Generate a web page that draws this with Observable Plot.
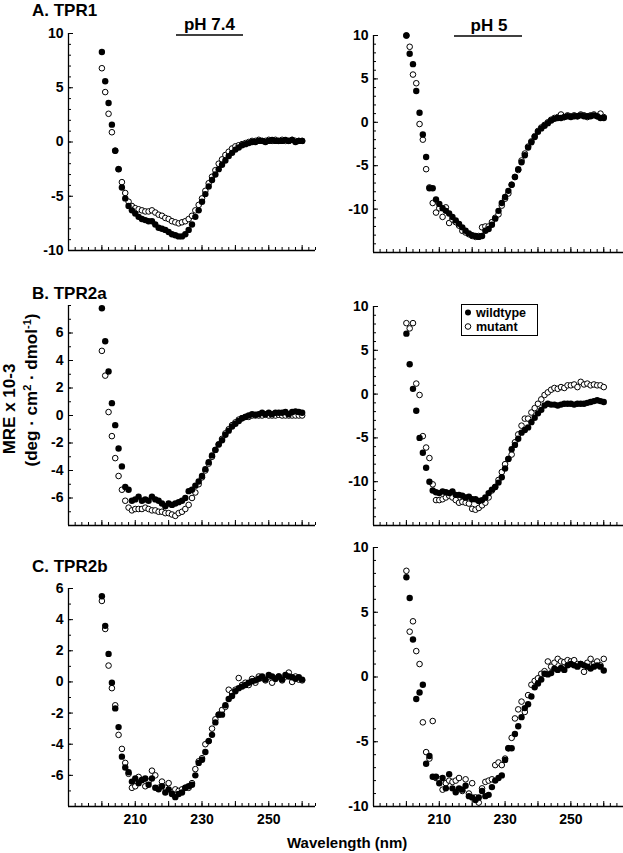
<!DOCTYPE html>
<html>
<head>
<meta charset="utf-8">
<script src="https://cdn.jsdelivr.net/npm/d3@7"></script>
<script src="https://cdn.jsdelivr.net/npm/@observablehq/plot@0.6"></script>
<style>
  body { margin: 0; background: #fff; }
  #chart { position: relative; width: 623px; height: 853px; overflow: hidden; background: #fff;
           font-family: "Liberation Sans", Arial, Helvetica, sans-serif; }
  #chart .panel { position: absolute; }
  #chart .overlay { position: absolute; left: 0; top: 0; pointer-events: none; }
</style>
</head>
<body>
<div id="chart"></div>
<script>
// ---------------- data ----------------
const wavelength = [200,201,202,203,204,205,206,207,208,209,
  210,211,212,213,214,215,216,217,218,219,
  220,221,222,223,224,225,226,227,228,229,
  230,231,232,233,234,235,236,237,238,239,
  240,241,242,243,244,245,246,247,248,249,
  250,251,252,253,254,255,256,257,258,259,260];

// A. TPR1, pH 7.4
const tpr1_ph74_wildtype = [8.3,5.6,3.6,1.6,-0.8,-2.5,-4.2,-5.2,-5.9,-6.3,
  -6.6,-6.9,-7.1,-7.2,-7.3,-7.3,-7.6,-7.9,-8.0,-8.1,
  -8.3,-8.5,-8.6,-8.7,-8.7,-8.5,-8.1,-7.6,-6.9,-6.3,
  -5.5,-4.8,-4.1,-3.5,-3.0,-2.5,-2.1,-1.7,-1.3,-1.0,
  -0.7,-0.5,-0.3,-0.2,-0.1,0.0,0.0,0.1,0.1,0.0,
  0.1,0.2,0.1,0.1,0.1,0.2,0.1,0.2,0.0,0.1,0.1];
const tpr1_ph74_mutant = [6.8,4.6,2.6,0.9,-0.8,-2.5,-3.7,-4.7,-5.5,-5.9,
  -6.1,-6.2,-6.3,-6.4,-6.4,-6.3,-6.5,-6.7,-6.8,-7.0,
  -7.1,-7.3,-7.4,-7.5,-7.4,-7.3,-7.1,-6.8,-6.3,-5.8,
  -5.2,-4.5,-3.8,-3.2,-2.6,-2.0,-1.6,-1.2,-0.9,-0.6,
  -0.4,-0.3,-0.2,-0.1,0.0,0.1,0.1,0.2,0.1,0.1,
  0.2,0.1,0.2,0.1,0.2,0.1,0.1,0.2,0.1,0.1,0.1];
// A. TPR1, pH 5
const tpr1_ph5_wildtype = [10.0,7.9,6.7,3.6,1.1,-1.4,-4.0,-7.6,-7.6,-8.9,
  -9.4,-9.9,-10.2,-10.5,-10.9,-11.3,-11.7,-12.1,-12.5,-12.8,
  -13.0,-13.1,-13.2,-13.1,-12.5,-12.3,-11.8,-11.1,-10.2,-9.3,
  -8.6,-7.9,-7.2,-6.3,-5.4,-4.6,-3.8,-2.9,-2.3,-1.7,
  -1.1,-0.7,-0.4,-0.1,0.2,0.4,0.5,0.5,0.6,0.7,
  0.6,0.7,0.7,0.8,0.7,0.7,0.7,0.8,0.7,0.5,0.5];
const tpr1_ph5_mutant = [10.0,8.7,5.5,4.5,-0.2,-2.0,-5.4,-7.5,-9.3,-10.4,
  -9.9,-10.9,-9.8,-11.6,-11.2,-11.5,-11.9,-12.5,-12.7,-12.9,
  -13.1,-13.2,-13.1,-12.1,-12.0,-12.0,-11.5,-11.0,-10.6,-9.6,
  -8.8,-8.2,-7.2,-6.3,-5.5,-4.4,-3.6,-2.8,-2.2,-1.6,
  -1.0,-0.6,-0.3,0.0,0.3,0.5,0.6,0.9,0.6,0.8,
  0.7,0.8,0.7,0.9,0.8,0.6,0.8,0.9,0.7,1.0,0.6];
// B. TPR2a, pH 7.4
const tpr2a_ph74_wildtype = [7.8,5.4,3.2,0.9,-0.7,-2.4,-3.7,-5.2,-5.4,-6.2,
  -6.1,-5.9,-6.2,-6.1,-6.2,-5.9,-6.1,-6.2,-6.4,-6.6,
  -6.4,-6.5,-6.4,-6.3,-6.2,-6.0,-5.5,-5.4,-5.1,-4.8,
  -4.4,-3.9,-3.4,-2.9,-2.5,-2.1,-1.8,-1.4,-1.1,-0.8,
  -0.6,-0.4,-0.2,-0.1,0.0,0.1,0.05,0.1,0.2,0.1,
  0.2,0.1,0.2,0.2,0.2,0.25,0.1,0.25,0.3,0.25,0.2];
const tpr2a_ph74_mutant = [4.7,2.9,0.25,-1.5,-3.1,-4.4,-5.4,-6.2,-6.7,-6.9,
  -6.8,-6.8,-6.8,-6.7,-6.8,-6.9,-6.9,-7.0,-7.0,-7.1,
  -7.1,-7.2,-7.3,-7.1,-7.0,-6.8,-6.5,-6.0,-5.6,-5.0,
  -4.5,-4.0,-3.5,-3.0,-2.5,-2.1,-1.7,-1.3,-1.0,-0.7,
  -0.5,-0.3,-0.2,-0.1,-0.1,0.0,0.0,0.0,0.0,0.05,
  0.0,0.0,0.0,0.05,0.0,0.0,0.0,0.0,0.0,0.0,0.0];
// B. TPR2a, pH 5
const tpr2a_ph5_wildtype = [6.9,3.4,0.6,-1.9,-5.0,-6.7,-8.4,-10.0,-11.0,-11.2,
  -11.3,-11.1,-11.2,-11.3,-11.1,-11.5,-11.5,-11.6,-11.8,-11.7,
  -12.0,-12.0,-12.2,-12.1,-11.8,-11.3,-10.9,-10.6,-10.1,-9.5,
  -8.5,-7.4,-6.3,-5.8,-5.1,-4.4,-4.1,-3.8,-3.2,-2.7,
  -2.2,-1.8,-1.3,-1.1,-1.2,-1.2,-1.3,-1.2,-1.1,-1.1,
  -1.1,-1.2,-1.1,-1.1,-1.1,-1.0,-0.9,-0.8,-0.7,-0.8,-0.9];
const tpr2a_ph5_mutant = [8.1,7.5,8.1,1.2,-0.1,-4.8,-6.1,-7.3,-10.3,-12.1,
  -12.1,-12.0,-11.8,-11.6,-11.8,-12.1,-12.4,-12.3,-12.4,-12.5,
  -13.1,-13.2,-13.0,-12.7,-12.4,-11.8,-11.0,-10.6,-9.8,-8.9,
  -8.0,-7.4,-6.9,-5.5,-4.6,-3.6,-2.8,-2.8,-2.1,-1.6,
  -1.1,-0.6,-0.1,0.2,0.5,0.7,0.6,0.8,0.7,1.0,
  1.0,1.1,0.8,1.4,1.1,1.2,1.0,1.1,1.0,1.0,0.8];
// C. TPR2b, pH 7.4
const tpr2b_ph74_wildtype = [5.5,3.6,1.8,-0.05,-1.7,-2.9,-4.8,-5.5,-5.8,-6.4,
  -6.2,-6.5,-6.3,-6.2,-6.6,-6.2,-6.8,-6.9,-6.7,-7.1,
  -6.9,-7.2,-7.4,-7.2,-7.1,-6.8,-6.7,-6.6,-6.0,-5.2,
  -5.0,-4.5,-3.8,-3.4,-2.6,-2.1,-2.1,-1.5,-1.1,-0.9,
  -0.6,-0.4,-0.3,-0.2,-0.05,0.05,0.1,0.2,0.35,0.15,
  0.45,0.35,0.2,0.35,0.15,0.45,0.35,0.3,0.2,0.3,0.15];
const tpr2b_ph74_mutant = [5.2,3.4,1.05,-0.4,-1.5,-3.4,-4.3,-5.2,-5.9,-6.8,
  -6.7,-6.1,-6.3,-6.7,-6.4,-5.7,-6.0,-6.8,-6.4,-6.8,
  -6.5,-7.1,-6.9,-7.0,-6.9,-6.8,-6.8,-6.5,-5.6,-5.1,
  -4.9,-4.0,-3.8,-3.0,-2.4,-2.1,-1.8,-1.6,-0.5,-0.7,
  -0.5,0.25,-0.2,-0.05,-0.2,0.2,-0.05,0.35,0.25,0.1,
  0.35,-0.05,0.2,0.35,0.1,0.35,0.6,0.0,0.35,0.15,0.1];
// C. TPR2b, pH 5
const tpr2b_ph5_wildtype = [7.7,6.1,2.9,-1.7,-1.2,-0.6,-6.7,-6.1,-7.7,-7.7,
  -8.2,-7.8,-8.6,-7.5,-8.6,-8.9,-8.6,-8.7,-8.4,-9.2,
  -9.3,-9.5,-9.3,-8.8,-9.2,-9.1,-8.5,-8.0,-7.8,-7.6,
  -6.4,-5.5,-5.5,-4.4,-3.8,-3.1,-2.4,-2.1,-1.5,-0.8,
  -0.5,-0.2,0.25,0.2,0.3,0.65,0.55,0.7,0.55,0.9,
  1.0,0.9,0.8,1.0,0.9,0.8,0.65,0.8,0.9,0.8,0.5];
const tpr2b_ph5_mutant = [8.2,3.5,4.3,2.0,1.0,-3.5,-5.8,-6.3,-3.4,-7.8,
  -7.9,-8.7,-8.2,-8.0,-8.1,-8.0,-7.8,-8.8,-7.9,-9.0,
  -8.2,-9.3,-9.7,-8.6,-8.1,-8.0,-7.9,-6.8,-6.6,-6.8,
  -6.3,-5.5,-4.7,-3.2,-2.5,-1.9,-2.7,-1.4,-0.6,-0.3,
  -0.1,0.25,0.45,1.2,0.8,1.1,1.4,1.2,1.15,1.3,
  1.2,1.3,1.0,1.0,0.4,1.1,1.4,1.0,1.2,0.9,1.4];

// tick labels
const xTickLabels = [210, 230, 250];
const xMajorTicks = [190, 200, 210, 220, 230, 240, 250, 260];
const yTicksTen = [10, 5, 0, -5, -10];
const yTicksSix = [6, 4, 2, 0, -2, -4, -6];

// text
const panelTitles = ["A. TPR1", "B. TPR2a", "C. TPR2b"];
const columnTitles = ["pH 7.4", "pH 5"];
const seriesNames = ["wildtype", "mutant"];

// ---------------- drawing ----------------
const FONT = '"Liberation Sans", Arial, Helvetica, sans-serif';
const chart = document.getElementById("chart");

function panel(cfg) {
  const {wt, mu, xDomain, yDomain, yLabels, showX, left, top, width, height, ml, mr, mt, mb} = cfg;
  const wtData = wavelength.map((w, i) => ({w, v: wt[i]}));
  const muData = wavelength.map((w, i) => ({w, v: mu[i]}));
  const fmt = d => String(d);
  const blank = () => "";
  const p = Plot.plot({
    width, height,
    marginLeft: ml, marginRight: mr, marginTop: mt, marginBottom: mb,
    x: {domain: xDomain, label: null},
    y: {domain: yDomain, label: null},
    style: {fontFamily: FONT, background: "transparent", overflow: "visible", color: "black"},
    marks: [
      Plot.ruleX([xDomain[0]], {stroke: "black", strokeWidth: 1.3}),
      Plot.ruleY([yDomain[0]], {stroke: "black", strokeWidth: 1.3}),
      Plot.axisX({ticks: d3.range(xDomain[0], xDomain[1] + 0.01, 2), tickSize: -3, tickFormat: blank, label: null}),
      Plot.axisX({ticks: xMajorTicks, tickSize: -5, tickFormat: blank, label: null}),
      showX ? Plot.axisX({ticks: xTickLabels, tickSize: 0, tickPadding: 8, fontSize: 14, fontWeight: "bold", tickFormat: fmt, label: null}) : null,
      Plot.axisY({ticks: d3.range(yDomain[0], yDomain[1] + 0.01, 1), tickSize: -3, tickFormat: blank, label: null}),
      Plot.axisY({ticks: yLabels, tickSize: -5, tickFormat: blank, label: null}),
      Plot.axisY({ticks: yLabels, tickSize: 0, tickPadding: 5, fontSize: 14, fontWeight: "bold", tickFormat: fmt, label: null}),
      Plot.dot(muData, {x: "w", y: "v", r: 2.8, fill: "white", stroke: "black", strokeWidth: 1}),
      Plot.dot(wtData, {x: "w", y: "v", r: 3.2, fill: "black", stroke: null})
    ]
  });
  p.classList.add("panel");
  p.style.left = left + "px";
  p.style.top = top + "px";
  chart.appendChild(p);
}

const leftCol = {xDomain: [190, 264], left: 0, width: 320, ml: 68, mr: 5};
const rightCol = {xDomain: [190, 266], left: 300, width: 323, ml: 73, mr: 0};

panel({...leftCol, wt: tpr1_ph74_wildtype, mu: tpr1_ph74_mutant, yDomain: [-10, 10], yLabels: yTicksTen,
  top: 23, height: 237, mt: 10, mb: 10, showX: false});
panel({...rightCol, wt: tpr1_ph5_wildtype, mu: tpr1_ph5_mutant, yDomain: [-15, 10], yLabels: yTicksTen,
  top: 25, height: 237, mt: 10, mb: 10, showX: false});
panel({...leftCol, wt: tpr2a_ph74_wildtype, mu: tpr2a_ph74_mutant, yDomain: [-8, 8], yLabels: yTicksSix,
  top: 295, height: 240, mt: 10, mb: 10, showX: false});
panel({...rightCol, wt: tpr2a_ph5_wildtype, mu: tpr2a_ph5_mutant, yDomain: [-15, 10], yLabels: yTicksTen,
  top: 296, height: 239, mt: 10, mb: 10, showX: false});
panel({...leftCol, wt: tpr2b_ph74_wildtype, mu: tpr2b_ph74_mutant, yDomain: [-8, 6], yLabels: yTicksSix,
  top: 578, height: 258, mt: 10, mb: 30, showX: true});
panel({...rightCol, wt: tpr2b_ph5_wildtype, mu: tpr2b_ph5_mutant, yDomain: [-10, 10], yLabels: yTicksTen,
  top: 537, height: 299, mt: 10, mb: 30, showX: true});

// ---------------- overlay text ----------------
const ov = d3.create("svg").attr("class", "overlay")
  .attr("width", 623).attr("height", 853)
  .attr("font-family", FONT).attr("font-weight", "bold").attr("fill", "black");

const titleY = [15.5, 299, 572];
panelTitles.forEach((t, i) => {
  ov.append("text").attr("x", 32).attr("y", titleY[i]).attr("font-size", 17).text(t);
});

// column headers
ov.append("text").attr("x", 209.5).attr("y", 29.5).attr("text-anchor", "middle").attr("font-size", 17).text(columnTitles[0]);
ov.append("line").attr("x1", 176).attr("x2", 243).attr("y1", 35).attr("y2", 35).attr("stroke", "black").attr("stroke-width", 1.5);
ov.append("text").attr("x", 489).attr("y", 31).attr("text-anchor", "middle").attr("font-size", 17).text(columnTitles[1]);
ov.append("line").attr("x1", 454).attr("x2", 522).attr("y1", 36).attr("y2", 36).attr("stroke", "black").attr("stroke-width", 1.5);

// y axis title (two lines, rotated)
ov.append("text").attr("transform", "translate(15,409) rotate(-90)").attr("text-anchor", "middle")
  .attr("font-size", 17).text("MRE x 10-3");
const l2 = ov.append("text").attr("transform", "translate(37,390) rotate(-90)").attr("text-anchor", "middle")
  .attr("font-size", 17);
l2.append("tspan").text("(deg \u00B7 cm");
l2.append("tspan").attr("dy", -6).attr("font-size", 11).text("2");
l2.append("tspan").attr("dy", 6).text(" \u00B7 dmol");
l2.append("tspan").attr("dy", -6).attr("font-size", 11).text("-1");
l2.append("tspan").attr("dy", 6).text(")");

// x axis title
ov.append("text").attr("x", 287).attr("y", 848).attr("font-size", 15).text("Wavelength (nm)");

// legend (in panel B, pH 5)
ov.append("rect").attr("x", 461.5).attr("y", 304.5).attr("width", 76).attr("height", 31)
  .attr("fill", "white").attr("stroke", "black").attr("stroke-width", 1);
ov.append("circle").attr("cx", 468).attr("cy", 312.5).attr("r", 3).attr("fill", "black");
ov.append("circle").attr("cx", 468).attr("cy", 326.5).attr("r", 2.8).attr("fill", "white").attr("stroke", "black");
ov.append("text").attr("x", 476).attr("y", 317).attr("font-size", 12.5).text(seriesNames[0]);
ov.append("text").attr("x", 476).attr("y", 331).attr("font-size", 12.5).text(seriesNames[1]);

chart.appendChild(ov.node());
</script>
</body>
</html>
